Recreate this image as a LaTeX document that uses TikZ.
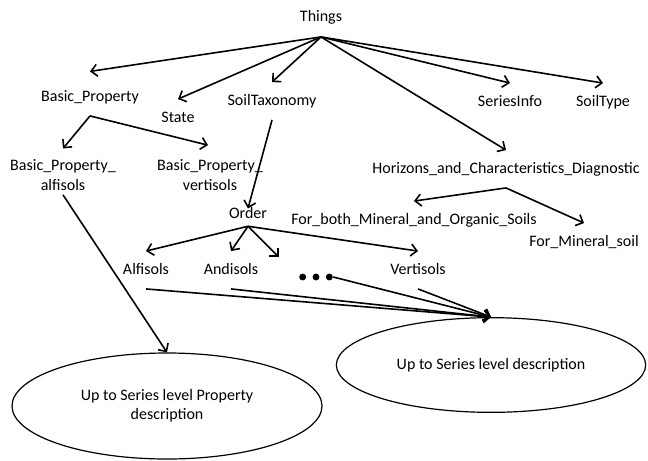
\documentclass[tikz,border=0pt]{standalone}
\usepackage{fontspec}
\setmainfont{Carlito}
\usetikzlibrary{arrows.meta,shapes.geometric}
\begin{document}
\begin{tikzpicture}[x=0.75pt,y=-0.75pt,
  lbl/.style={font=\fontsize{12}{14.25}\selectfont, text height=9pt, text depth=3pt,
    inner xsep=1pt, inner ysep=8pt},
  lbltwo/.style={font=\fontsize{12}{15}\selectfont, align=center,
    inner xsep=1pt, inner ysep=3pt},
  arr/.style={draw, line width=1.2pt, -{Straight Barb[length=4.5pt,width=9pt]}},
  goal/.style={ellipse, draw, line width=0.9pt, inner sep=0pt, align=center,
    font=\fontsize{12}{14.25}\selectfont},
  dotrow/.style={minimum width=25.5pt, minimum height=5.6pt, inner sep=0pt,
    path picture={\foreach \k in {-1,0,1}
      \fill ([xshift=\k*10pt]path picture bounding box.center) circle (2.6pt);}}
]
\useasboundingbox (0,0) rectangle (648,460);

% class nodes
\node[lbl] (things)   at (321,18)  {Things};
\node[lbl] (bp)       at (90,97)   {Basic\_Property};
\node[lbl] (state)    at (178,118) {State};
\node[lbl] (soiltax)  at (272,101) {SoilTaxonomy};
\node[lbl] (series)   at (510,102) {SeriesInfo};
\node[lbl] (soiltype) at (603,102) {SoilType};
\node[lbl] (horizons) at (506,169) {Horizons\_and\_Characteristics\_Diagnostic};
\node[lbltwo] (bpa)   at (63,175)  {Basic\_Property\_\\alfisols};
\node[lbltwo] (bpv)   at (210,175) {Basic\_Property\_\\vertisols};
\node[lbl] (order)    at (248,214) {Order};
\node[lbl] (both)     at (414,220) {For\_both\_Mineral\_and\_Organic\_Soils};
\node[lbl] (mineral)  at (584,242) {For\_Mineral\_soil};
\node[lbl] (alfisols) at (146,270) {Alfisols};
\node[lbl] (andisols) at (231,270) {Andisols};
\node[dotrow] (dots)  at (316,277) {};
\node[lbl] (vertisols) at (418,270) {Vertisols};

% description ellipses
\node[goal, minimum width=232.5pt, minimum height=79.5pt] (propdesc) at (167,406)
  {Up to Series level Property\\description};
\node[goal, minimum width=232pt, minimum height=71pt] (seriesdesc) at (491,365)
  {Up to Series level description};

% hierarchy
\draw[arr] (things.south) -- ([yshift=5pt]bp.north);
\draw[arr] (things.south) -- (state.north);
\draw[arr] (things.south) -- (soiltax.north);
\draw[arr] (things.south) -- (series.north);
\draw[arr] (things.south) -- (soiltype.north);
\draw[arr] (things.south) -- (horizons.north);

\draw[arr] (bp.south) -- ([yshift=5pt]bpa.north);
\draw[arr] (bp.south) -- ([xshift=-1.5pt,yshift=7.5pt]bpv.north);

\draw[arr] (soiltax.south) -- ([yshift=-10pt]order.north);

\draw[arr] (horizons.south) -- (both.north);
\draw[arr] (horizons.south) -- (mineral.north);

\draw[arr] ([yshift=5pt]order.south) -- (alfisols.north);
\draw[arr] ([yshift=5pt]order.south) -- (andisols.north);
\draw[arr] ([yshift=5pt]order.south) -- ([shift={(-20,-16)}]dots.north west);
\draw[arr] ([yshift=5pt]order.south) -- (vertisols.north);

% links to descriptions
\draw[arr] (bpa.south) -- (propdesc.north);
\draw[arr] (alfisols.south) -- (seriesdesc.north);
\draw[arr] (andisols.south) -- (seriesdesc.north);
\draw[arr] (dots.east) -- (seriesdesc.north);
\draw[arr] (vertisols.south) -- (seriesdesc.north);
\end{tikzpicture}
\end{document}
